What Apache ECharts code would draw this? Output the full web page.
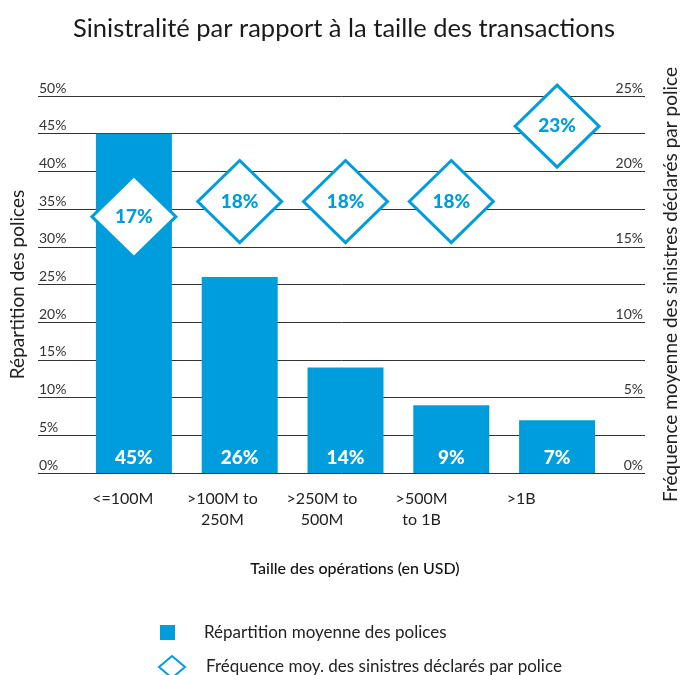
<!DOCTYPE html>
<html><head><meta charset="utf-8">
<script src="https://cdn.jsdelivr.net/npm/echarts@6/dist/echarts.min.js"></script>
<style>html,body{margin:0;padding:0;background:#fff}#c{width:688px;height:675px}</style>
</head><body><div id="c"></div>
<script>
const categories = ['<=100M', '>100M to\n250M', '>250M to\n500M', '>500M\nto 1B', '>1B'];
const repartition = [45, 26, 14, 9, 7];
const frequence = [17, 18, 18, 18, 23];
const seriesNames = ['Répartition moyenne des polices', 'Fréquence moy. des sinistres déclarés par police'];
const BLUE = '#009ddc';
const FONT = 'Lato';

const chart = echarts.init(document.getElementById('c'));
chart.setOption({
  backgroundColor: '#fff',
  animation: false,
  textStyle: { fontFamily: FONT },
  title: [
    { text: 'Sinistralité par rapport à la taille des transactions',
      left: 'center', top: 11,
      textStyle: { fontFamily: FONT, fontSize: 25.5, fontWeight: 'normal', color: '#1a1a1a' } },
    { text: 'Taille des opérations (en USD)', left: 350, top: 556, textAlign: 'center',
      textStyle: { fontFamily: FONT, fontSize: 16, fontWeight: 500, color: '#111' } }
  ],
  legend: [
    { data: [{ name: seriesNames[0], icon: 'rect' }], orient: 'vertical', left: 155, top: 619,
      itemWidth: 15, itemHeight: 15,
      textStyle: { fontFamily: FONT, fontSize: 17, color: '#222', padding: [0, 0, 0, 24] } },
    { data: [{ name: seriesNames[1], icon: 'diamond' }], orient: 'vertical', left: 153, top: 650,
      itemWidth: 26, itemHeight: 22,
      textStyle: { fontFamily: FONT, fontSize: 17, color: '#222', padding: [0, 0, 0, 16] } }
  ],
  grid: [
    { left: 37, right: 31, top: 96, bottom: 202 },
    { left: 81, right: 78, top: 96, bottom: 202 },
    { left: 73, right: 117, top: 96, bottom: 202 }
  ],
  xAxis: [
    { type: 'value', gridIndex: 0, show: false, min: 0, max: 1 },
    { type: 'category', gridIndex: 1, data: categories,
      axisLine: { show: false }, axisTick: { show: false }, axisLabel: { show: false } },
    { type: 'category', gridIndex: 2, data: categories,
      axisLine: { show: false }, axisTick: { show: false },
      axisLabel: { fontFamily: FONT, fontSize: 16, color: '#222', lineHeight: 21, margin: 15 } }
  ],
  yAxis: [
    { type: 'value', gridIndex: 0, min: 0, max: 50, interval: 5,
      axisLine: { show: false }, axisTick: { show: false },
      axisLabel: { inside: true, formatter: '{value}%', verticalAlign: 'bottom', margin: 1,
        fontFamily: FONT, fontSize: 14, color: '#333', padding: [0, 0, 1, 0] },
      splitLine: { show: true, lineStyle: { color: '#333', width: 1 } },
      name: 'Répartition des polices', nameLocation: 'middle', nameGap: 11, nameRotate: 90,
      nameTextStyle: { fontFamily: FONT, fontSize: 19, color: '#222' } },
    { type: 'value', gridIndex: 0, position: 'right', min: 0, max: 25, interval: 5,
      axisLine: { show: false }, axisTick: { show: false }, splitLine: { show: false },
      axisLabel: { inside: true, formatter: '{value}%', verticalAlign: 'bottom', margin: 2,
        fontFamily: FONT, fontSize: 14, color: '#333', padding: [0, 0, 1, 0] },
      name: 'Fréquence moyenne des sinistres déclarés par police', nameLocation: 'middle', nameGap: 16, nameRotate: 90,
      nameTextStyle: { fontFamily: FONT, fontSize: 19, color: '#222' } },
    { type: 'value', gridIndex: 1, min: 0, max: 50, show: false },
    { type: 'value', gridIndex: 1, min: 0, max: 25, show: false },
    { type: 'value', gridIndex: 2, min: 0, max: 1, show: false }
  ],
  series: [
    { name: seriesNames[0], type: 'bar', xAxisIndex: 1, yAxisIndex: 2, data: repartition,
      barWidth: 76, itemStyle: { color: BLUE },
      label: { show: true, position: 'insideBottom', distance: 6, formatter: '{c}%',
        color: '#fff', fontFamily: FONT, fontWeight: 900, fontSize: 19 } },
    { name: seriesNames[1], type: 'scatter', xAxisIndex: 1, yAxisIndex: 3, data: frequence,
      symbol: 'diamond', symbolSize: [84, 82], z: 5,
      itemStyle: { color: '#fff', borderColor: BLUE, borderWidth: 3, opacity: 1 },
      label: { show: true, position: 'inside', formatter: '{c}%',
        color: BLUE, fontFamily: FONT, fontWeight: 900, fontSize: 19 } }
  ]
});
</script></body></html>
